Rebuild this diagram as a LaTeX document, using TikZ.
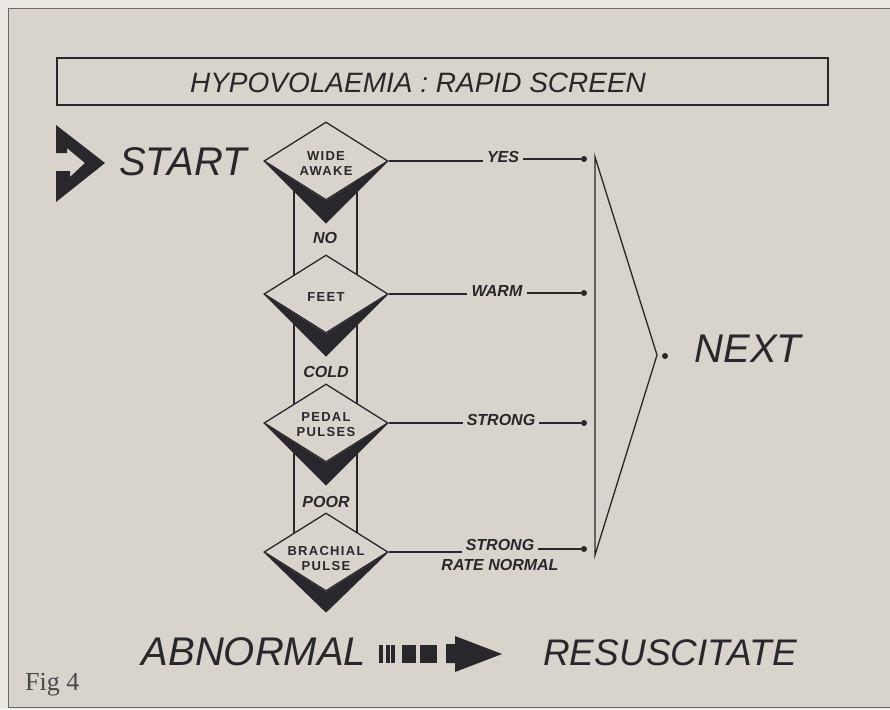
\documentclass[tikz,border=0pt]{standalone}
\usepackage{fontspec}
\setmainfont{Liberation Serif}
\newfontfamily\hv{Liberation Sans}
\newfontfamily\hvd[LetterSpace=10]{Liberation Sans}
\usetikzlibrary{calc,shapes.geometric}
\definecolor{paper}{RGB}{216,211,203}
\definecolor{margin}{RGB}{236,233,228}
\definecolor{ink}{RGB}{40,40,44}
\begin{document}
\begin{tikzpicture}[x=1pt,y=-1pt,
  txt/.style={text=ink, inner sep=0pt},
  big/.style={txt, font=\hv\itshape\fontsize{40}{48}\selectfont, anchor=base},
  small/.style={txt, inner xsep=4pt, inner ysep=0pt, font=\hv\bfseries\itshape\fontsize{16}{19}\selectfont, anchor=base},
  dlab/.style={txt, font=\hvd\bfseries\fontsize{13}{15}\selectfont, align=center},
  dia/.style={diamond, draw=ink, fill=paper, line width=1.3pt, minimum width=124pt, minimum height=78pt, inner sep=0pt},
  ln/.style={draw=ink, line width=1.4pt},
  dotn/.style={circle, fill=ink, inner sep=0pt, minimum size=6pt},
  shadow/.style={fill=ink}
]
\useasboundingbox (0,0) rectangle (890,709);
\fill[margin] (0,0) rectangle (890,709);
\filldraw[fill=paper, draw=ink!70, line width=1pt] (8,9) rectangle (896,707);

% title
\node[draw=ink, line width=1.3pt, minimum width=771pt, minimum height=47pt, inner sep=0pt] (titlebox) at (442.5,81.5) {};
\node[txt, anchor=base, font=\hv\itshape\fontsize{28}{32}\selectfont] (title) at (418,92) {HYPOVOLAEMIA : RAPID SCREEN};

% start
\fill[ink] (56,125) -- (105,163) -- (56,202) -- (56,171) -- (70,171) -- (70,177) -- (85,163) -- (67,148) -- (67,153) -- (56,153) -- cycle;
\node[big] (start) at (183,175) {START};

% channel
\coordinate (c1) at (326,161);
\coordinate (c2) at (326,294);
\coordinate (c3) at (326,423);
\coordinate (c4) at (326,552);
\draw[ln] ([xshift=-32pt]c1) -- ([xshift=-32pt]c4);
\draw[ln] ([xshift=31pt]c1) -- ([xshift=31pt]c4);

% diamonds
\node[dia] (d1) at (c1) {};
\node[dia] (d2) at (c2) {};
\node[dia] (d3) at (c3) {};
\node[dia] (d4) at (c4) {};
\fill[shadow] (d1.west) -- ($(d1.south)+(0,23)$) -- (d1.east) -- (d1.south) -- cycle;
\fill[shadow] (d2.west) -- ($(d2.south)+(0,23)$) -- (d2.east) -- (d2.south) -- cycle;
\fill[shadow] (d3.west) -- ($(d3.south)+(0,23)$) -- (d3.east) -- (d3.south) -- cycle;
\fill[shadow] (d4.west) -- ($(d4.south)+(0,21)$) -- (d4.east) -- (d4.south) -- cycle;

\node[dlab] (t1) at (326,164) {WIDE\\AWAKE};
\node[dlab] (t2) at (326,297) {FEET};
\node[dlab] (t3) at (326,425) {PEDAL\\PULSES};
\node[dlab] (t4) at (326,559) {BRACHIAL\\PULSE};

\node[small] (no) at (325,243) {NO};
\node[small] (cold) at (326,377) {COLD};
\node[small] (poor) at (326,507) {POOR};

% outcomes
\node[small] (yes) at (503,162) {YES};
\node[small] (warm) at (497,296) {WARM};
\node[small] (strong3) at (501,425) {STRONG};
\node[small] (strong4) at (500,550) {STRONG};
\node[small] (rate) at (500,570) {RATE NORMAL};

\node[dotn] (dot1) at (584,159) {};
\node[dotn] (dot2) at (584,293) {};
\node[dotn] (dot3) at (584,423) {};
\node[dotn] (dot4) at (584,549) {};

\draw[ln] (d1.east) -- (yes.west |- d1.east);
\draw[ln] (yes.east |- dot1) -- (dot1);
\draw[ln] (d2.east) -- (warm.west |- d2.east);
\draw[ln] (warm.east |- dot2) -- (dot2);
\draw[ln] (d3.east) -- (strong3.west |- d3.east);
\draw[ln] (strong3.east |- dot3) -- (dot3);
\draw[ln] (d4.east) -- (strong4.west |- d4.east);
\draw[ln] (strong4.east |- dot4) -- (dot4);

% bracket
\coordinate (btop) at (595,157);
\coordinate (bbot) at (595,555);
\coordinate (apex) at (657,355);
\draw[ln, line width=1.3pt] (btop) -- (bbot) -- (apex) -- cycle;
\node[dotn] (ndot) at (665,356) {};
\node[big] (next) at (748,362) {NEXT};

% bottom
\node[big] (abn) at (254,665) {ABNORMAL};
\node[big, font=\hv\itshape\fontsize{37}{44}\selectfont] (res) at (670,665) {RESUSCITATE};
\fill[ink] (379,645) rectangle (383,663);
\fill[ink] (385.5,645) rectangle (389.5,663);
\fill[ink] (391,645) rectangle (395,663);
\fill[ink] (402,645) rectangle (416,663);
\fill[ink] (420,645) rectangle (437,663);
\fill[ink] (446,644) -- (455,644) -- (455,636) -- (502,654) -- (455,672) -- (455,663) -- (446,663) -- cycle;

\node[anchor=base west, inner sep=0pt, text=ink!85, font=\fontsize{26}{30}\selectfont] (fig) at (25,690) {Fig 4};
\end{tikzpicture}
\end{document}
